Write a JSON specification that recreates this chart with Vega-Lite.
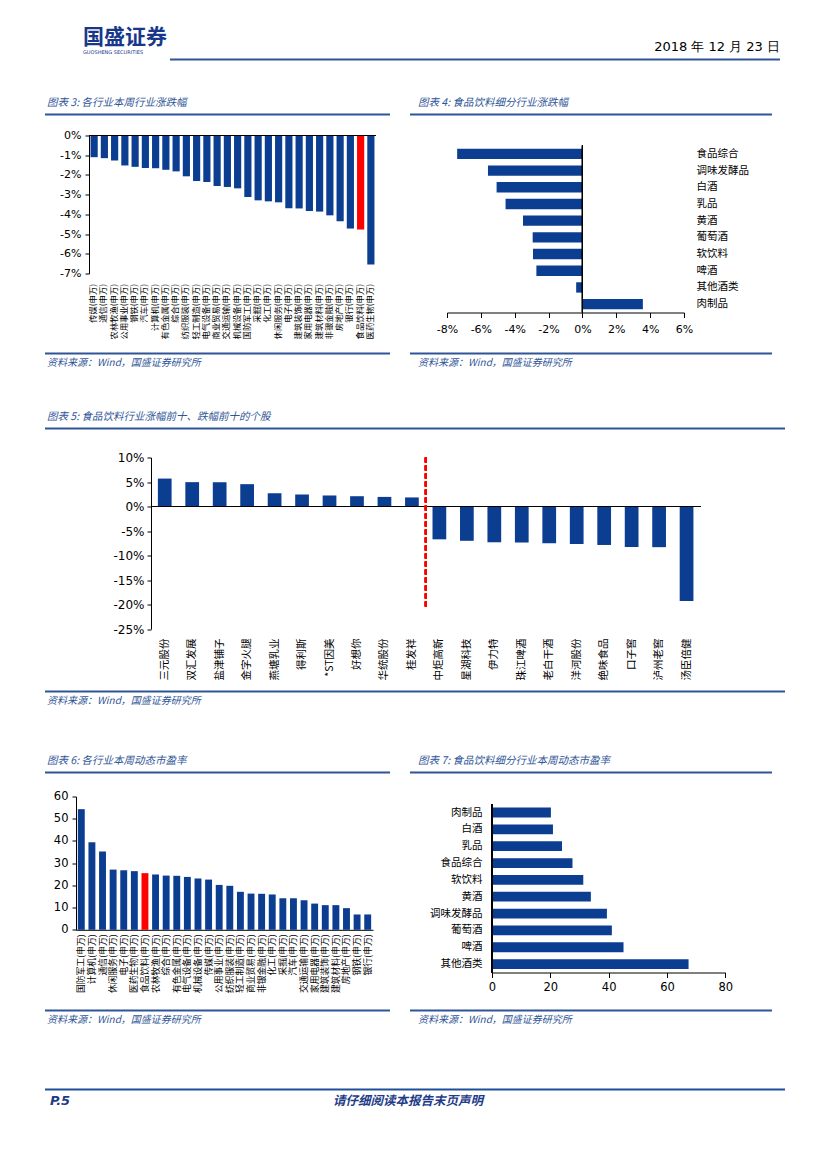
{
"$schema": "https://vega.github.io/schema/vega-lite/v6.json",
"background": "#ffffff",
"padding": {"left": 45, "top": 26.5, "right": 20, "bottom": 20},
"autosize": {"type": "pad"},
"spacing": 0,
"config": {
  "view": {"stroke": null},
  "font": "DejaVu Sans",
  "axis": {"labelColor": "#000000", "domainColor": "#000000", "tickColor": "#000000", "grid": false, "labelFont": "DejaVu Sans", "labelOverlap": false, "labelFlush": false},
  "title": {"font": "Noto Sans CJK SC", "fontWeight": "normal", "anchor": "start", "frame": "group"}
},
"vconcat": [
  {"hconcat": [
    {"width": 125, "height": 2, "data": {"values": []}, "mark": "point",
     "title": {"text": "国盛证券", "subtitle": "GUOSHENG SECURITIES", "fontSize": 21, "fontWeight": "bold", "color": "#17388A", "subtitleFontSize": 5, "subtitleColor": "#17388A", "subtitleFont": "DejaVu Sans", "subtitlePadding": 2, "offset": 4, "dx": 38}},
    {"width": 610, "height": 2, "data": {"values": []}, "mark": "point", "view": {"fill": "#2F5597", "stroke": null},
     "title": {"text": "2018 年 12 月 23 日", "anchor": "end", "fontSize": 13, "color": "#000000", "offset": 5, "font": "DejaVu Sans"}}
  ], "spacing": 0, "bounds": "flush"},
  {"width": 1, "height": 36.5, "data": {"values": []}, "mark": "point"},
  {"hconcat": [
    {"width": 345, "height": 2, "data": {"values": []}, "mark": "point", "view": {"fill": "#2F5597", "stroke": null},
     "title": {"text": "图表 3:  各行业本周行业涨跌幅", "fontSize": 10.5, "fontStyle": "italic", "color": "#2F5597", "offset": 5, "dx": 2}},
    {"width": 362, "height": 2, "data": {"values": []}, "mark": "point", "view": {"fill": "#2F5597", "stroke": null},
     "title": {"text": "图表 4:  食品饮料细分行业涨跌幅", "fontSize": 10.5, "fontStyle": "italic", "color": "#2F5597", "offset": 5, "dx": 8}}
  ], "spacing": 20, "bounds": "flush"},
  {"width": 1, "height": 13.5, "data": {"values": []}, "mark": "point"},
  {"hconcat": [
    {"width": 44, "height": 1, "data": {"values": []}, "mark": "point"},
    {"width": 287, "height": 138,
     "data": {"values": [
       {"name": "传媒(申万)", "value": -1.1},
       {"name": "通信(申万)", "value": -1.15},
       {"name": "农林牧渔(申万)", "value": -1.27},
       {"name": "公用事业(申万)", "value": -1.52},
       {"name": "钢铁(申万)", "value": -1.59},
       {"name": "汽车(申万)", "value": -1.65},
       {"name": "计算机(申万)", "value": -1.66},
       {"name": "有色金属(申万)", "value": -1.74},
       {"name": "综合(申万)", "value": -1.82},
       {"name": "纺织服装(申万)", "value": -2.07},
       {"name": "轻工制造(申万)", "value": -2.31},
       {"name": "电气设备(申万)", "value": -2.36},
       {"name": "商业贸易(申万)", "value": -2.56},
       {"name": "交通运输(申万)", "value": -2.61},
       {"name": "机械设备(申万)", "value": -2.68},
       {"name": "国防军工(申万)", "value": -3.12},
       {"name": "采掘(申万)", "value": -3.29},
       {"name": "化工(申万)", "value": -3.34},
       {"name": "休闲服务(申万)", "value": -3.39},
       {"name": "电子(申万)", "value": -3.69},
       {"name": "建筑装饰(申万)", "value": -3.7},
       {"name": "家用电器(申万)", "value": -3.83},
       {"name": "建筑材料(申万)", "value": -3.86},
       {"name": "非银金融(申万)", "value": -4.05},
       {"name": "房地产(申万)", "value": -4.35},
       {"name": "银行(申万)", "value": -4.72},
       {"name": "食品饮料(申万)", "value": -4.77},
       {"name": "医药生物(申万)", "value": -6.54}
     ]},
     "layer": [
       {"mark": {"type": "bar"},
        "encoding": {
          "x": {"field": "name", "type": "nominal", "sort": null, "scale": {"paddingInner": 0.3, "paddingOuter": 0.15},
                "axis": {"title": null, "domain": false, "ticks": false, "labelAngle": -90, "labelFontSize": 8.3, "labelPadding": 10, "labelFont": "Noto Sans CJK SC", "labelLimit": 0}},
          "y": {"field": "value", "type": "quantitative", "scale": {"domain": [-7, 0], "nice": false},
                "axis": {"title": null, "values": [-7, -6, -5, -4, -3, -2, -1, 0], "tickCount": 20, "labelExpr": "datum.value + '%'", "labelOverlap": false, "labelFontSize": 11, "tickSize": 4, "labelPadding": 4}},
          "color": {"condition": {"test": "datum.name === '食品饮料(申万)'", "value": "#FF0000"}, "value": "#0B3D91"}
        }},
       {"mark": {"type": "rule", "color": "#000000", "strokeWidth": 1}, "encoding": {"y": {"datum": 0}}}
     ]},
    {"width": 71, "height": 1, "data": {"values": []}, "mark": "point"},
    {"width": 237, "height": 187,
     "data": {"values": [
       {"name": "食品综合", "value": -7.4},
       {"name": "调味发酵品", "value": -5.58},
       {"name": "白酒", "value": -5.07},
       {"name": "乳品", "value": -4.54},
       {"name": "黄酒", "value": -3.51},
       {"name": "葡萄酒", "value": -2.94},
       {"name": "软饮料", "value": -2.92},
       {"name": "啤酒", "value": -2.72},
       {"name": "其他酒类", "value": -0.37},
       {"name": "肉制品", "value": 3.57}
     ]},
     "layer": [
       {"mark": {"type": "bar", "color": "#0B3D91", "height": {"band": 0.62}},
        "encoding": {
          "y": {"field": "name", "type": "nominal", "sort": null, "scale": {"paddingInner": 0, "paddingOuter": 0.6},
                "axis": {"orient": "right", "title": null, "domain": false, "ticks": false, "labelPadding": 12, "labelFontSize": 10.5, "labelFont": "Noto Sans CJK SC"}},
          "x": {"field": "value", "type": "quantitative", "scale": {"domain": [-8, 6], "nice": false},
                "axis": {"title": null, "values": [-8, -6, -4, -2, 0, 2, 4, 6], "tickCount": 20, "labelExpr": "datum.value + '%'", "labelOverlap": false, "labelFontSize": 11, "tickSize": 5, "offset": -10, "labelPadding": 6}}
        }},
       {"mark": {"type": "rule", "color": "#000000", "strokeWidth": 1},
        "encoding": {"x": {"datum": 0}, "y": {"datum": "食品综合", "type": "nominal", "bandPosition": 0}, "y2": {"datum": "肉制品", "bandPosition": 1}}}
     ]}
  ], "spacing": 0, "bounds": "flush"},
  {"width": 1, "height": 12.5, "data": {"values": []}, "mark": "point"},
  {"hconcat": [
    {"width": 345, "height": 2, "data": {"values": []}, "mark": "point", "view": {"fill": "#2F5597", "stroke": null},
     "title": {"text": "资料来源：Wind，国盛证券研究所", "orient": "bottom", "fontSize": 10, "fontStyle": "italic", "color": "#2F5597", "offset": 3, "dx": 2}},
    {"width": 362, "height": 2, "data": {"values": []}, "mark": "point", "view": {"fill": "#2F5597", "stroke": null},
     "title": {"text": "资料来源：Wind，国盛证券研究所", "orient": "bottom", "fontSize": 10, "fontStyle": "italic", "color": "#2F5597", "offset": 3, "dx": 8}}
  ], "spacing": 20, "bounds": "flush"},
  {"width": 1, "height": 44, "data": {"values": []}, "mark": "point"},
  {"width": 740, "height": 2, "data": {"values": []}, "mark": "point", "view": {"fill": "#2F5597", "stroke": null},
   "title": {"text": "图表 5:  食品饮料行业涨幅前十、跌幅前十的个股", "fontSize": 10.5, "fontStyle": "italic", "color": "#2F5597", "offset": 5, "dx": 2}},
  {"width": 1, "height": 22, "data": {"values": []}, "mark": "point"},
  {"hconcat": [
    {"width": 105.7, "height": 1, "data": {"values": []}, "mark": "point"},
    {"width": 549.3, "height": 171.5,
     "data": {"values": [
       {"name": "三元股份", "value": 5.7},
       {"name": "双汇发展", "value": 4.97},
       {"name": "盐津铺子", "value": 4.95},
       {"name": "金字火腿", "value": 4.56},
       {"name": "燕塘乳业", "value": 2.7},
       {"name": "得利斯", "value": 2.45},
       {"name": "*ST因美", "value": 2.25},
       {"name": "好想你", "value": 2.1},
       {"name": "华统股份", "value": 1.96},
       {"name": "桂发祥", "value": 1.85},
       {"name": "中炬高新", "value": -6.7},
       {"name": "星湖科技", "value": -7.0},
       {"name": "伊力特", "value": -7.3},
       {"name": "珠江啤酒", "value": -7.35},
       {"name": "老白干酒", "value": -7.5},
       {"name": "洋河股份", "value": -7.65},
       {"name": "绝味食品", "value": -7.85},
       {"name": "口子窖", "value": -8.27},
       {"name": "泸州老窖", "value": -8.3},
       {"name": "汤臣倍健", "value": -19.3}
     ]},
     "layer": [
       {"mark": {"type": "bar", "color": "#0B3D91", "width": {"band": 0.5}},
        "encoding": {
          "x": {"field": "name", "type": "nominal", "sort": null, "scale": {"paddingInner": 0, "paddingOuter": 0},
                "axis": {"title": null, "domain": false, "ticks": false, "labelAngle": -90, "labelFontSize": 10.5, "labelPadding": 9, "labelFont": "Noto Sans CJK SC", "labelLimit": 0}},
          "y": {"field": "value", "type": "quantitative", "scale": {"domain": [-25, 10], "nice": false},
                "axis": {"title": null, "values": [-25, -20, -15, -10, -5, 0, 5, 10], "tickCount": 20, "labelExpr": "datum.value + '%'", "labelOverlap": false, "labelFontSize": 12, "tickSize": 4, "labelPadding": 3}}
        }},
       {"mark": {"type": "rule", "color": "#000000", "strokeWidth": 1}, "encoding": {"y": {"datum": 0}}},
       {"mark": {"type": "rule", "color": "#FF0000", "strokeWidth": 1.5, "strokeDash": [5, 3]},
        "encoding": {"x": {"datum": "中炬高新", "type": "nominal", "bandPosition": 0}, "y": {"datum": 10}, "y2": {"datum": -21}}}
     ]}
  ], "spacing": 0, "bounds": "flush"},
  {"width": 1, "height": 10, "data": {"values": []}, "mark": "point"},
  {"width": 740, "height": 2, "data": {"values": []}, "mark": "point", "view": {"fill": "#2F5597", "stroke": null},
   "title": {"text": "资料来源：Wind，国盛证券研究所", "orient": "bottom", "fontSize": 10, "fontStyle": "italic", "color": "#2F5597", "offset": 3, "dx": 2}},
  {"width": 1, "height": 49.5, "data": {"values": []}, "mark": "point"},
  {"hconcat": [
    {"width": 345, "height": 2, "data": {"values": []}, "mark": "point", "view": {"fill": "#2F5597", "stroke": null},
     "title": {"text": "图表 6:  各行业本周动态市盈率", "fontSize": 10.5, "fontStyle": "italic", "color": "#2F5597", "offset": 5, "dx": 2}},
    {"width": 362, "height": 2, "data": {"values": []}, "mark": "point", "view": {"fill": "#2F5597", "stroke": null},
     "title": {"text": "图表 7:  食品饮料细分行业本周动态市盈率", "fontSize": 10.5, "fontStyle": "italic", "color": "#2F5597", "offset": 5, "dx": 8}}
  ], "spacing": 20, "bounds": "flush"},
  {"width": 1, "height": 16.5, "data": {"values": []}, "mark": "point"},
  {"hconcat": [
    {"width": 31, "height": 1, "data": {"values": []}, "mark": "point"},
    {"width": 297, "height": 133.3,
     "data": {"values": [
       {"name": "国防军工(申万)", "value": 54.3},
       {"name": "计算机(申万)", "value": 39.4},
       {"name": "通信(申万)", "value": 35.2},
       {"name": "休闲服务(申万)", "value": 27.1},
       {"name": "电子(申万)", "value": 26.8},
       {"name": "医药生物(申万)", "value": 26.4},
       {"name": "食品饮料(申万)", "value": 25.5},
       {"name": "农林牧渔(申万)", "value": 24.9},
       {"name": "综合(申万)", "value": 24.4},
       {"name": "有色金属(申万)", "value": 24.3},
       {"name": "电气设备(申万)", "value": 23.8},
       {"name": "机械设备(申万)", "value": 23.1},
       {"name": "传媒(申万)", "value": 22.6},
       {"name": "公用事业(申万)", "value": 20.2},
       {"name": "纺织服装(申万)", "value": 19.8},
       {"name": "轻工制造(申万)", "value": 17.1},
       {"name": "商业贸易(申万)", "value": 16.3},
       {"name": "非银金融(申万)", "value": 16.2},
       {"name": "化工(申万)", "value": 15.9},
       {"name": "采掘(申万)", "value": 14.2},
       {"name": "汽车(申万)", "value": 14.2},
       {"name": "交通运输(申万)", "value": 13.3},
       {"name": "家用电器(申万)", "value": 11.8},
       {"name": "建筑装饰(申万)", "value": 11.1},
       {"name": "建筑材料(申万)", "value": 11.1},
       {"name": "房地产(申万)", "value": 9.75},
       {"name": "钢铁(申万)", "value": 6.9},
       {"name": "银行(申万)", "value": 6.9}
     ]},
     "mark": {"type": "bar", "width": {"band": 0.65}},
     "encoding": {
       "x": {"field": "name", "type": "nominal", "sort": null, "scale": {"paddingInner": 0, "paddingOuter": 0},
             "axis": {"title": null, "domain": true, "ticks": false, "labelAngle": -90, "labelFontSize": 8.8, "labelPadding": 4, "labelFont": "Noto Sans CJK SC", "labelLimit": 0}},
       "y": {"field": "value", "type": "quantitative", "scale": {"domain": [0, 60], "nice": false},
             "axis": {"title": null, "values": [0, 10, 20, 30, 40, 50, 60], "tickCount": 20, "labelOverlap": false, "labelFontSize": 11.5, "tickSize": 4, "labelPadding": 4}},
       "color": {"condition": {"test": "datum.name === '食品饮料(申万)'", "value": "#FF0000"}, "value": "#0B3D91"}
     }},
    {"width": 118.7, "height": 1, "data": {"values": []}, "mark": "point"},
    {"width": 233.3, "height": 183.6,
     "data": {"values": [
       {"name": "肉制品", "value": 20.2},
       {"name": "白酒", "value": 20.9},
       {"name": "乳品", "value": 24.0},
       {"name": "食品综合", "value": 27.6},
       {"name": "软饮料", "value": 31.3},
       {"name": "黄酒", "value": 33.9},
       {"name": "调味发酵品", "value": 39.4},
       {"name": "葡萄酒", "value": 41.1},
       {"name": "啤酒", "value": 45.1},
       {"name": "其他酒类", "value": 67.4}
     ]},
     "layer": [
       {"mark": {"type": "bar", "color": "#0B3D91", "height": {"band": 0.58}},
        "encoding": {
          "y": {"field": "name", "type": "nominal", "sort": null, "scale": {"paddingInner": 0, "paddingOuter": 0.45},
                "axis": {"title": null, "domain": false, "ticks": false, "labelPadding": 10, "labelFontSize": 10.5, "labelFont": "Noto Sans CJK SC"}},
          "x": {"field": "value", "type": "quantitative", "scale": {"domain": [0, 80], "nice": false},
                "axis": {"title": null, "values": [0, 20, 40, 60, 80], "tickCount": 20, "labelOverlap": false, "labelFontSize": 11.5, "tickSize": 5, "offset": -7.6, "labelPadding": 4}}
        }},
       {"mark": {"type": "rule", "color": "#000000", "strokeWidth": 1},
        "encoding": {"x": {"datum": 0}, "y": {"datum": "肉制品", "type": "nominal", "bandPosition": 0}, "y2": {"datum": "其他酒类", "bandPosition": 1}}}
     ]}
  ], "spacing": 0, "bounds": "flush"},
  {"width": 1, "height": 16, "data": {"values": []}, "mark": "point"},
  {"hconcat": [
    {"width": 345, "height": 2, "data": {"values": []}, "mark": "point", "view": {"fill": "#2F5597", "stroke": null},
     "title": {"text": "资料来源：Wind，国盛证券研究所", "orient": "bottom", "fontSize": 10, "fontStyle": "italic", "color": "#2F5597", "offset": 3, "dx": 2}},
    {"width": 362, "height": 2, "data": {"values": []}, "mark": "point", "view": {"fill": "#2F5597", "stroke": null},
     "title": {"text": "资料来源：Wind，国盛证券研究所", "orient": "bottom", "fontSize": 10, "fontStyle": "italic", "color": "#2F5597", "offset": 3, "dx": 8}}
  ], "spacing": 20, "bounds": "flush"},
  {"width": 1, "height": 64, "data": {"values": []}, "mark": "point"},
  {"hconcat": [
    {"width": 285, "height": 2, "data": {"values": []}, "mark": "point", "view": {"fill": "#1F4E9A", "stroke": null},
     "title": {"text": "P.5", "orient": "bottom", "fontSize": 13, "fontWeight": "bold", "fontStyle": "italic", "color": "#1F3C88", "offset": 4, "dx": 5, "font": "DejaVu Sans"}},
    {"width": 455, "height": 2, "data": {"values": []}, "mark": "point", "view": {"fill": "#1F4E9A", "stroke": null},
     "title": {"text": "请仔细阅读本报告末页声明", "orient": "bottom", "fontSize": 12.5, "fontWeight": "bold", "fontStyle": "italic", "color": "#1F3C88", "offset": 4, "dx": 3}}
  ], "spacing": 0, "bounds": "flush"}
]
}
